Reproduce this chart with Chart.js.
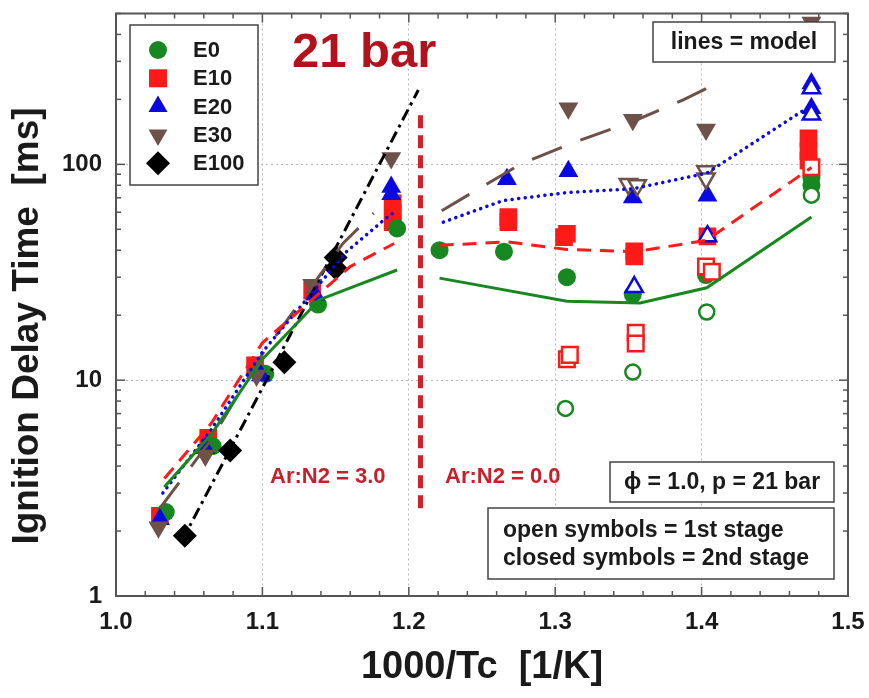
<!DOCTYPE html>
<html>
<head>
<meta charset="utf-8">
<script src="https://cdn.jsdelivr.net/npm/chart.js@4.4.1/dist/chart.umd.min.js"></script>
<style>
  html, body { margin: 0; padding: 0; background: #fff; }
  #wrap { width: 869px; height: 698px; }
</style>
</head>
<body>
<div id="wrap"><canvas id="idtChart" width="869" height="698"></canvas></div>
<script>
// x = 1000/Tc [1/K], y = ignition delay time [ms]
const xTicks = [1.0, 1.1, 1.2, 1.3, 1.4, 1.5];
const yTickLabels = [1, 10, 100];

// closed symbols = 2nd stage
const e0X = [1.034, 1.066, 1.102, 1.138, 1.192, 1.221, 1.265, 1.308, 1.353, 1.403, 1.475, 1.475];
const e0Y = [2.45, 4.95, 10.7, 22.4, 50.5, 40, 39.4, 30, 25.0, 30.7, 87, 80];
const e10X = [1.030, 1.063, 1.095, 1.134, 1.189, 1.189, 1.189, 1.268, 1.268, 1.308, 1.306, 1.354, 1.354, 1.404, 1.473, 1.473, 1.473];
const e10Y = [2.35, 5.4, 11.7, 26, 66, 60, 54, 57, 54, 47.7, 46, 39.5, 37.5, 46.4, 132, 115, 104];
const e20X = [1.030, 1.061, 1.099, 1.136, 1.188, 1.188, 1.267, 1.309, 1.353, 1.404, 1.475, 1.475];
const e20Y = [2.27, 4.84, 10.5, 24.9, 78.5, 72.6, 85.3, 93, 70.3, 71.6, 237, 182];
const e30X = [1.029, 1.061, 1.096, 1.134, 1.188, 1.309, 1.353, 1.403, 1.475];
const e30Y = [2.08, 4.48, 10.5, 27.7, 107, 182, 161, 145, 454];
const e100X = [1.047, 1.078, 1.115, 1.150, 1.150];
const e100Y = [1.9, 4.72, 12.1, 37, 33];

// open symbols = 1st stage
const e0OpenX = [1.307, 1.353, 1.4035, 1.475];
const e0OpenY = [7.4, 10.9, 20.7, 72];
const e10OpenX = [1.308, 1.310, 1.355, 1.355, 1.403, 1.407, 1.475];
const e10OpenY = [12.5, 13.1, 16.6, 14.8, 33.6, 31.8, 97];
const e20OpenX = [1.354, 1.404, 1.475, 1.475];
const e20OpenY = [27, 46.5, 225, 170];
const e30OpenX = [1.350, 1.356, 1.403, 1.403];
const e30OpenY = [81, 80, 93, 86];

// model lines (null splits the Ar:N2 = 3.0 and Ar:N2 = 0.0 parts)
const e0ModelX = [1.033, 1.065, 1.100, 1.139, 1.192, 1.207, 1.221, 1.308, 1.358, 1.4035, 1.475];
const e0ModelY = [3.2, 5.6, 12.5, 23.6, 32.4, null, 29.7, 23.2, 22.8, 26.8, 57];
const e10ModelX = [1.033, 1.065, 1.100, 1.160, 1.190, 1.207, 1.221, 1.268, 1.308, 1.355, 1.4035, 1.475];
const e10ModelY = [3.5, 6.3, 14.9, 33.6, 43, null, 42.2, 43.7, 40.3, 39.4, 44.5, 96.6];
const e20ModelX = [1.032, 1.065, 1.100, 1.1575, 1.1826, 1.190, 1.207, 1.2236, 1.2646, 1.308, 1.353, 1.4035, 1.475];
const e20ModelY = [3.0, 5.9, 13.5, 39.4, 55, 60, null, 54, 68, 74, 77, 91, 188];
const e30ModelX = [1.030, 1.065, 1.100, 1.155, 1.176, 1.207, 1.2225, 1.276, 1.3124, 1.353, 1.3875, 1.4035];
const e30ModelY = [2.55, 5.3, 13.2, 43, 59.4, null, 61, 100, 126, 158, 199, 225];
const e100ModelX = [1.045, 1.100, 1.2065];
const e100ModelY = [1.8, 9.2, 221];

// Ar:N2 divider
const dividerX = [1.208, 1.208];
const dividerY = [2.55, 175];

const legendNames = ["E0", "E10", "E20", "E30", "E100"];
const colors = {
  E0: "#17871f",
  E10: "#ff1a1a",
  E20: "#0a0ae0",
  E30: "#6e5148",
  E100: "#000000",
};
const markerStyle = { E0: "circle", E10: "rect", E20: "triangle", E30: "down", E100: "diamond" };

const FONT = "'Liberation Sans', Arial, sans-serif";

function pts(xs, ys) {
  return xs.map((x, i) => ({ x: x, y: ys[i] }));
}

function markerSet(label, xs, ys, name, open, order) {
  const c = colors[name];
  const st = markerStyle[name];
  const styleMap = { circle: "circle", rect: "rect", triangle: "triangle", down: "triangle", diamond: "rectRot" };
  const radius = { circle: 9, rect: 12.5, triangle: 11.5, down: 11.5, diamond: 12 }[st];
  return {
    label: label,
    data: pts(xs, ys),
    showLine: false,
    pointStyle: styleMap[st],
    rotation: st === "down" ? 180 : 0,
    pointRadius: open ? radius - 1.5 : radius,
    pointBackgroundColor: open ? "#ffffff" : c,
    pointBorderColor: c,
    pointBorderWidth: open ? 2.5 : 0,
    order: order,
  };
}

function modelSet(label, xs, ys, color, dash, width, cap, order) {
  return {
    label: label,
    data: pts(xs, ys),
    showLine: true,
    spanGaps: false,
    pointRadius: 0,
    borderColor: color,
    borderWidth: width,
    borderDash: dash,
    borderCapStyle: cap,
    tension: 0,
    order: order,
  };
}

// draw a legend marker by hand
function drawMarker(ctx, st, x, y, color) {
  ctx.fillStyle = color;
  ctx.beginPath();
  if (st === "circle") {
    ctx.arc(x, y, 9, 0, Math.PI * 2);
  } else if (st === "rect") {
    ctx.rect(x - 9, y - 9, 18, 18);
  } else if (st === "triangle") {
    ctx.moveTo(x, y - 11);
    ctx.lineTo(x + 9.5, y + 5.5);
    ctx.lineTo(x - 9.5, y + 5.5);
  } else if (st === "down") {
    ctx.moveTo(x, y + 11);
    ctx.lineTo(x + 9.5, y - 5.5);
    ctx.lineTo(x - 9.5, y - 5.5);
  } else {
    ctx.moveTo(x, y - 12);
    ctx.lineTo(x + 12, y);
    ctx.lineTo(x, y + 12);
    ctx.lineTo(x - 12, y);
  }
  ctx.closePath();
  ctx.fill();
}

function textBox(ctx, x1, y1, x2, y2) {
  ctx.fillStyle = "#ffffff";
  ctx.fillRect(x1, y1, x2 - x1, y2 - y1);
  ctx.strokeStyle = "#444";
  ctx.lineWidth = 1.5;
  ctx.strokeRect(x1, y1, x2 - x1, y2 - y1);
}

const overlay = {
  id: "overlay",
  afterDraw(chart) {
    const ctx = chart.ctx;
    const a = chart.chartArea;
    const sx = chart.scales.x;
    const sy = chart.scales.y;
    ctx.save();

    // inward tick marks on all four sides
    ctx.strokeStyle = "#555";
    ctx.lineWidth = 1.5;
    const seg = (x1, y1, x2, y2) => {
      ctx.beginPath();
      ctx.moveTo(x1, y1);
      ctx.lineTo(x2, y2);
      ctx.stroke();
    };
    for (let i = 0; i <= 25; i++) {
      const px = sx.getPixelForValue(1.0 + i * 0.02);
      const len = i % 5 === 0 ? 9 : 5;
      seg(px, a.bottom, px, a.bottom - len);
      seg(px, a.top, px, a.top + len);
    }
    yTickLabels.forEach((d) => {
      for (let k = 1; k <= 9; k++) {
        const v = d * k;
        if (v > 500) break;
        const py = sy.getPixelForValue(v);
        const len = k === 1 ? 9 : 5;
        seg(a.left, py, a.left + len, py);
        seg(a.right, py, a.right - len, py);
      }
    });

    // frame
    ctx.strokeStyle = "#555";
    ctx.lineWidth = 2;
    ctx.strokeRect(a.left, a.top, a.right - a.left, a.bottom - a.top);

    // axis titles
    ctx.fillStyle = "#1a1a1a";
    ctx.font = "bold 37px " + FONT;
    ctx.textAlign = "center";
    ctx.textBaseline = "middle";
    ctx.save();
    ctx.translate(28, 326);
    ctx.rotate(-Math.PI / 2);
    ctx.fillText("Ignition Delay Time  [ms]", 0, 0);
    ctx.restore();
    ctx.font = "bold 38px " + FONT;
    ctx.fillText("1000/Tc  [1/K]", 482, 668);

    // legend
    textBox(ctx, 130, 25, 258, 185);
    ctx.font = "bold 22px " + FONT;
    ctx.textAlign = "left";
    legendNames.forEach((n, i) => {
      const y = 50 + i * 28.3;
      drawMarker(ctx, markerStyle[n], 158, y, colors[n]);
      ctx.fillStyle = "#1a1a1a";
      ctx.fillText(n, 193, y + 1);
    });

    // annotations
    ctx.fillStyle = "#b3121d";
    ctx.font = "bold 49px " + FONT;
    ctx.textBaseline = "alphabetic";
    ctx.fillText("21 bar", 292, 67);
    ctx.fillStyle = "#c8202a";
    ctx.font = "bold 22px " + FONT;
    ctx.fillText("Ar:N2 = 3.0", 270, 483);
    ctx.fillText("Ar:N2 = 0.0", 445, 483);

    textBox(ctx, 653, 22, 835, 62);
    textBox(ctx, 610, 462, 834, 502);
    textBox(ctx, 488, 508, 834, 579);
    ctx.fillStyle = "#1a1a1a";
    ctx.font = "bold 23px " + FONT;
    ctx.textBaseline = "middle";
    ctx.textAlign = "center";
    ctx.fillText("lines = model", 744, 43);
    ctx.fillText("\u03d5 = 1.0, p = 21 bar", 722, 483);
    ctx.textAlign = "left";
    ctx.fillText("open symbols = 1st stage", 503, 531);
    ctx.fillText("closed symbols = 2nd stage", 503, 559);

    ctx.restore();
  },
};

const datasets = [
  modelSet("divider", dividerX, dividerY, "#d42028", [13, 7], 5, "butt", 0),
  modelSet("E0 model", e0ModelX, e0ModelY, colors.E0, [], 3, "butt", 1),
  modelSet("E10 model", e10ModelX, e10ModelY, colors.E10, [14, 9], 3, "butt", 2),
  modelSet("E20 model", e20ModelX, e20ModelY, colors.E20, [0.1, 6.5], 3.5, "round", 3),
  modelSet("E30 model", e30ModelX, e30ModelY, colors.E30, [32, 20], 3, "butt", 4),
  modelSet("E100 model", e100ModelX, e100ModelY, colors.E100, [12, 5, 3, 5], 3, "butt", 5),
  markerSet("E30 1st", e30OpenX, e30OpenY, "E30", true, 10),
  markerSet("E20 1st", e20OpenX, e20OpenY, "E20", true, 11),
  markerSet("E10 1st", e10OpenX, e10OpenY, "E10", true, 12),
  markerSet("E0 1st", e0OpenX, e0OpenY, "E0", true, 13),
  markerSet("E100", e100X, e100Y, "E100", false, 14),
  markerSet("E30", e30X, e30Y, "E30", false, 15),
  markerSet("E20", e20X, e20Y, "E20", false, 16),
  markerSet("E0", e0X, e0Y, "E0", false, 17),
  markerSet("E10", e10X, e10Y, "E10", false, 18),
];

new Chart(document.getElementById("idtChart"), {
  type: "scatter",
  data: { datasets: datasets },
  options: {
    responsive: false,
    animation: false,
    devicePixelRatio: 1,
    layout: { padding: { top: 9, right: 21, left: 0, bottom: 0 } },
    plugins: { legend: { display: false }, tooltip: { enabled: false } },
    scales: {
      x: {
        type: "linear",
        min: 1.0,
        max: 1.5,
        afterBuildTicks: (scale) => {
          scale.ticks = xTicks.map((v) => ({ value: v }));
        },
        afterFit: (scale) => {
          scale.height = 102;
          scale.paddingLeft = 0;
          scale.paddingRight = 0;
        },
        ticks: {
          padding: 12,
          color: "#1a1a1a",
          font: { family: FONT, size: 24, weight: "bold" },
          callback: (v) => Number(v).toFixed(1),
        },
        grid: {
          drawTicks: false,
          lineWidth: 1,
          color: (c) => (c.tick && c.tick.value > 1.0 && c.tick.value < 1.5 ? "#b8b8b8" : "rgba(0,0,0,0)"),
        },
        border: { display: false, dash: [2, 3] },
      },
      y: {
        type: "logarithmic",
        min: 1,
        max: 500,
        afterBuildTicks: (scale) => {
          scale.ticks = yTickLabels.map((v) => ({ value: v }));
        },
        afterFit: (scale) => {
          scale.width = 116;
          scale.paddingTop = 0;
          scale.paddingBottom = 0;
        },
        ticks: {
          autoSkip: false,
          padding: 14,
          color: "#1a1a1a",
          font: { family: FONT, size: 24, weight: "bold" },
          callback: (v) => String(v),
        },
        grid: {
          drawTicks: false,
          lineWidth: 1,
          color: (c) => (c.tick && c.tick.value > 1 ? "#b8b8b8" : "rgba(0,0,0,0)"),
        },
        border: { display: false, dash: [2, 3] },
      },
    },
  },
  plugins: [overlay],
});
</script>
</body>
</html>
